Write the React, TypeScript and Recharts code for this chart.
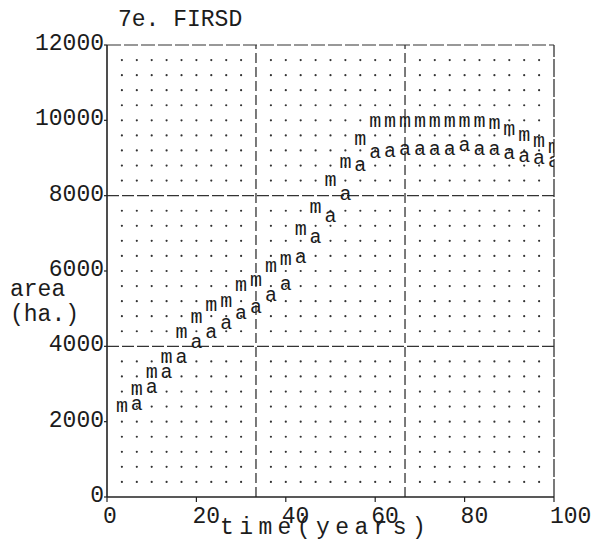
import React from 'react';
import { ScatterChart, Scatter, XAxis, YAxis, ReferenceLine } from 'recharts';

const FONT = '"Liberation Mono", "DejaVu Sans Mono", monospace';
const INK = '#1c1c1c';

// time columns (years)
const times = [3.33, 6.67, 10, 13.33, 16.67, 20, 23.33, 26.67, 30, 33.33, 36.67, 40, 43.33, 46.67, 50,
  53.33, 56.67, 60, 63.33, 66.67, 70, 73.33, 76.67, 80, 83.33, 86.67, 90, 93.33, 96.67, 100];

// series "m"
const mValues = [2390, 2840, 3290, 3690, 4350, 4750, 5070, 5180, 5600, 5740, 6110, 6290, 7090, 7670, 8390,
  8870, 9480, 9950, 9950, 9950, 9950, 9950, 9950, 9950, 9950, 9900, 9740, 9590, 9430, 9270];

// series "a" (starts at second column)
const aTimes = [6.67, 10, 13.33, 16.67, 20, 23.33, 26.67, 30, 33.33, 36.67, 40, 43.33, 46.67, 50,
  53.33, 56.67, 60, 63.33, 66.67, 70, 73.33, 76.67, 80, 83.33, 86.67, 90, 93.33, 96.67, 100];
const aValues = [2440, 2890, 3290, 3690, 4090, 4350, 4590, 4860, 5020, 5340, 5630, 6350, 6880, 7430,
  8020, 8790, 9130, 9160, 9210, 9210, 9210, 9210, 9320, 9210, 9210, 9110, 9030, 8970, 8890];

const xTicks = [0, 20, 40, 60, 80, 100];
const yTicks = [0, 2000, 4000, 6000, 8000, 10000, 12000];
const xDividers = [33.33, 66.67];
const yDividers = [4000, 8000];

// background dot grid
const gridCols = times.filter((t) => t !== 33.33 && t !== 66.67 && t !== 100);
const gridRows = Array.from({ length: 29 }, (_, i) => (i + 1) * 400).filter((v) => v !== 4000 && v !== 8000);

const gridData = gridCols.flatMap((t) => gridRows.map((v) => ({ t, v })));
const mData = times.map((t, i) => ({ t, v: mValues[i] }));
const aData = aTimes.map((t, i) => ({ t, v: aValues[i] }));

const GridDot = (p: any) => <circle cx={p.cx} cy={p.cy} r={1.1} fill="#333" />;
const glyph = (ch: string) => (p: any) => (
  <text x={p.cx} y={p.cy + 5} textAnchor="middle" fontFamily={FONT} fontSize={20} fill={INK}>{ch}</text>
);

const XTick = (p: any) => (
  <text x={p.x - 4} y={p.y + 21} textAnchor="start" fontFamily={FONT} fontSize={23} fill={INK}>
    {p.payload.value}
  </text>
);
const YTick = (p: any) => (
  <text x={p.x} y={p.y + 5} textAnchor="end" fontFamily={FONT} fontSize={23} fill={INK}>
    {p.payload.value}
  </text>
);

const YLabel = () => (
  <g fontFamily={FONT} fontSize={23} fill={INK}>
    <text x={118} y={26} fill={INK}>7e. FIRSD</text>
    <text x={10} y={296} fill={INK}>area</text>
    <text x={10} y={321} fill={INK}>(ha.)</text>
  </g>
);
const XLabel = () => (
  <text x={220} y={534} fontFamily={FONT} fontSize={23} letterSpacing={5.4} fill={INK}>time(years)</text>
);

export default function App() {
  return (
    <div style={{ position: 'absolute', left: 0, top: 0, width: 592, height: 556, background: '#fff' }}>
      <ScatterChart width={592} height={556} margin={{ top: 45, right: 38, bottom: 0, left: 0 }}>
        <XAxis
          type="number"
          dataKey="t"
          domain={[0, 100]}
          ticks={xTicks}
          interval={0}
          allowDataOverflow
          height={59}
          tickSize={5}
          tickMargin={0}
          tick={XTick}
          axisLine={{ stroke: '#222', strokeWidth: 1.5 }}
          tickLine={{ stroke: '#222', strokeWidth: 1.2 }}
          label={<XLabel />}
        />
        <YAxis
          type="number"
          dataKey="v"
          domain={[0, 12000]}
          ticks={yTicks}
          interval={0}
          allowDataOverflow
          width={107}
          tickSize={3}
          tickMargin={0}
          tick={YTick}
          axisLine={{ stroke: '#222', strokeWidth: 1.6 }}
          tickLine={{ stroke: '#222', strokeWidth: 1.2 }}
          label={<YLabel />}
        />
        <ReferenceLine y={12000} stroke="#333" strokeWidth={1.2} strokeDasharray="14 3" />
        <ReferenceLine x={100} stroke="#333" strokeWidth={1.3} strokeDasharray="18 2" />
        {yDividers.map((v) => (
          <ReferenceLine key={'h' + v} y={v} stroke="#333" strokeWidth={1.2} strokeDasharray="12 3" />
        ))}
        {xDividers.map((t) => (
          <ReferenceLine key={'v' + t} x={t} stroke="#333" strokeWidth={1.3} strokeDasharray="10 4" />
        ))}
        <Scatter data={gridData} shape={GridDot} isAnimationActive={false} />
        <Scatter data={mData} shape={glyph('m')} isAnimationActive={false} />
        <Scatter data={aData} shape={glyph('a')} isAnimationActive={false} />
      </ScatterChart>
    </div>
  );
}
